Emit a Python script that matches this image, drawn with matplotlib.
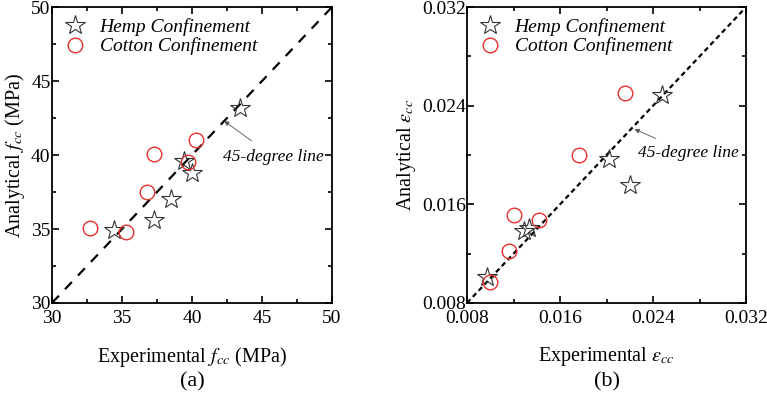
import matplotlib
matplotlib.use("Agg")
import matplotlib.pyplot as plt
from matplotlib.ticker import MultipleLocator

plt.rcParams['font.family'] = ['Liberation Serif', 'DejaVu Serif']
plt.rcParams['mathtext.fontset'] = 'stix'

# (a) peak strength, MPa
hemp_fcc_exp = [43.4, 39.4, 40.0, 38.5, 37.3, 34.4]
hemp_fcc_ana = [43.2, 39.6, 38.8, 37.0, 35.6, 34.9]
cotton_fcc_exp = [32.7, 35.3, 36.8, 37.3, 39.7, 40.3]
cotton_fcc_ana = [35.1, 34.8, 37.5, 40.1, 39.5, 41.0]

# (b) peak strain
hemp_ecc_exp = [0.0248, 0.0202, 0.0220, 0.0133, 0.0129, 0.0097]
hemp_ecc_ana = [0.0249, 0.0197, 0.0176, 0.0141, 0.0138, 0.0101]
cotton_ecc_exp = [0.0216, 0.0176, 0.0120, 0.0142, 0.0116, 0.0100]
cotton_ecc_ana = [0.0250, 0.0200, 0.0151, 0.0147, 0.0122, 0.0097]

fig = plt.figure(figsize=(7.67, 3.94), dpi=100)
ax1 = fig.add_axes([0.0678, 0.231, 0.365, 0.751])
ax2 = fig.add_axes([0.6089, 0.231, 0.3638, 0.751])


def style(ax, lo, hi, major, minor):
    ax.set_xlim(lo, hi)
    ax.set_ylim(lo, hi)
    ax.xaxis.set_major_locator(MultipleLocator(major))
    ax.yaxis.set_major_locator(MultipleLocator(major))
    ax.xaxis.set_minor_locator(MultipleLocator(minor))
    ax.yaxis.set_minor_locator(MultipleLocator(minor))
    ax.tick_params(which='both', direction='in', top=True, right=True,
                   labelsize=14, width=1.2)
    ax.tick_params(axis='x', pad=5)
    ax.tick_params(axis='y', pad=1)
    ax.tick_params(which='major', length=5)
    ax.tick_params(which='minor', length=3)
    for s in ax.spines.values():
        s.set_linewidth(1.3)


def points(ax, hx, hy, cx, cy):
    ax.plot(hx, hy, linestyle='none', marker='*', markersize=15,
            markerfacecolor='none', markeredgecolor='#333333',
            markeredgewidth=0.8, label='Hemp Confinement', clip_on=False)
    ax.plot(cx, cy, linestyle='none', marker='o', markersize=10.5,
            markerfacecolor='none', markeredgecolor='#e8312f',
            markeredgewidth=1.0, label='Cotton Confinement', clip_on=False)
    leg = ax.legend(loc='upper left', frameon=False, fontsize=14,
                    handletextpad=0.6, borderaxespad=0.15, labelspacing=0.1,
                    handlelength=1.3)
    for t in leg.get_texts():
        t.set_fontstyle('italic')


# (a)
style(ax1, 30, 50, 5, 2.5)
ax1.plot([30, 50], [30, 50], color='black', linestyle=(0, (4.5, 4)), linewidth=1.6)
points(ax1, hemp_fcc_exp, hemp_fcc_ana, cotton_fcc_exp, cotton_fcc_ana)
ax1.annotate('45-degree line', xy=(42.3, 42.3), xytext=(42.2, 39.9),
             fontsize=12.5, fontstyle='italic', va='center', ha='left',
             arrowprops=dict(arrowstyle='-|>', color='#555555', lw=0.6,
                             mutation_scale=7, shrinkA=6, shrinkB=0))
ax1.set_xlabel('Experimental $f_{cc}$ (MPa)', fontsize=14.5, labelpad=13)
ax1.set_ylabel('Analytical $f_{cc}$ (MPa)', fontsize=14.5, labelpad=3)
ax1.text(0.5, -0.265, '(a)', transform=ax1.transAxes, fontsize=16,
         ha='center', va='center')

# (b)
style(ax2, 0.008, 0.032, 0.008, 0.004)
ax2.xaxis.set_major_formatter(lambda v, p: f'{v:.3f}')
ax2.yaxis.set_major_formatter(lambda v, p: f'{v:.3f}')
ax2.plot([0.008, 0.032], [0.008, 0.032], color='black', linestyle=(0, (2.2, 1.6)), linewidth=1.6)
points(ax2, hemp_ecc_exp, hemp_ecc_ana, cotton_ecc_exp, cotton_ecc_ana)
ax2.annotate('45-degree line', xy=(0.0224, 0.0221), xytext=(0.0227, 0.0202),
             fontsize=12.5, fontstyle='italic', va='center', ha='left',
             arrowprops=dict(arrowstyle='-|>', color='#555555', lw=0.6,
                             mutation_scale=7, shrinkA=6, shrinkB=0))
ax2.set_xlabel(r'Experimental $\varepsilon_{cc}$', fontsize=14.5, labelpad=13)
ax2.set_ylabel(r'Analytical $\varepsilon_{cc}$', fontsize=14.5, labelpad=3)
ax2.text(0.5, -0.265, '(b)', transform=ax2.transAxes, fontsize=16,
         ha='center', va='center')

fig.savefig('out.png', dpi=100)
